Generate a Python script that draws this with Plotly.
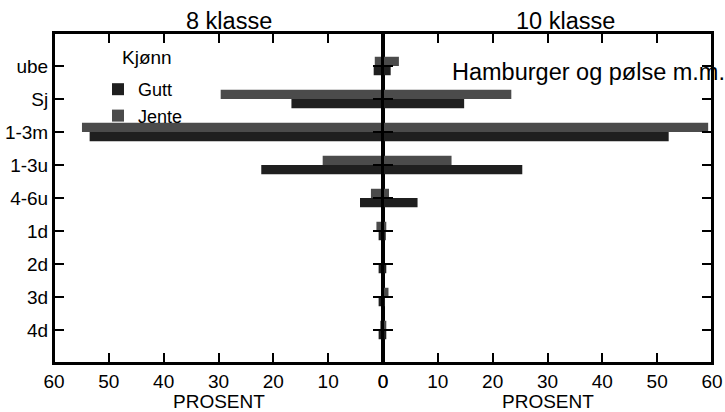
import plotly.graph_objects as go

categories = ["ube", "Sj", "1-3m", "1-3u", "4-6u", "1d", "2d", "3d", "4d"]
series_names = ["Gutt", "Jente"]
grade8_gutt = [1.7, 16.7, 53.5, 22.2, 4.2, 0.8, 0.8, 0.8, 0.8]
grade8_jente = [1.5, 29.6, 54.9, 11.0, 2.2, 1.2, 0.2, 0.2, 0.5]
grade10_gutt = [1.4, 14.8, 52.1, 25.4, 6.3, 0.5, 0.6, 0.2, 0.6]
grade10_jente = [2.9, 23.4, 59.3, 12.5, 1.1, 0.6, 0.1, 1.0, 0.6]
panel_titles = ["8 klasse", "10 klasse"]
x_ticks = [0, 10, 20, 30, 40, 50, 60]
chart_label = "Hamburger og pølse m.m."
legend_title = "Kjønn"
x_title = "PROSENT"

FONT = "Liberation Sans, Arial, sans-serif"
C_GUTT = "#1f1f1f"
C_JENTE = "#4b4b4b"
W = 0.28
ML, MR, MT, MB = 54, 13, 33, 49
PW = (725 - ML - MR) / 2
PH = 412 - MT - MB

fig = go.Figure()
for vals, name, col, off, xa, ya, show in [
    (grade8_gutt, series_names[0], C_GUTT, 0.0, "x", "y", True),
    (grade8_jente, series_names[1], C_JENTE, -W, "x", "y", True),
    (grade10_gutt, series_names[0], C_GUTT, 0.0, "x2", "y2", False),
    (grade10_jente, series_names[1], C_JENTE, -W, "x2", "y2", False),
]:
    fig.add_trace(go.Bar(x=vals, y=categories, orientation="h", name=name,
                         marker=dict(color=col, line=dict(width=0)),
                         width=W, offset=off, xaxis=xa, yaxis=ya, showlegend=show))

ax_style = dict(showline=True, linecolor="black", linewidth=2, mirror="ticks",
                ticks="inside", ticklen=10, tickwidth=2, tickcolor="black",
                showgrid=False, zeroline=False)

frame = [
    dict(type="rect", xref="paper", yref="paper", x0=0, x1=0.5, y0=0, y1=1,
         line=dict(color="black", width=2), layer="above"),
    dict(type="rect", xref="paper", yref="paper", x0=0.5, x1=1, y0=0, y1=1,
         line=dict(color="black", width=2), layer="above"),
]

fig.update_layout(
    template="none",
    width=725, height=412, margin=dict(l=ML, r=MR, t=MT, b=MB),
    barmode="overlay", paper_bgcolor="white", plot_bgcolor="white",
    font=dict(family=FONT, color="black", size=19),
    xaxis=dict(domain=[0, 0.5], range=[60, 0], tickvals=x_ticks, anchor="y", **ax_style),
    xaxis2=dict(domain=[0.5, 1], range=[0, 60], tickvals=x_ticks, anchor="y2", **ax_style),
    yaxis=dict(type="category", categoryorder="array", categoryarray=categories,
               range=[9, -1], anchor="x", side="left", **ax_style),
    yaxis2=dict(type="category", categoryorder="array", categoryarray=categories,
                range=[9, -1], anchor="x2", side="left", showticklabels=False, **ax_style),
    legend=dict(font=dict(size=18), x=(98 - ML) / (2 * PW), y=(MT + PH - 71) / PH,
                xanchor="left", yanchor="top", bgcolor="rgba(0,0,0,0)"),
    shapes=frame,
    annotations=[
        dict(text=panel_titles[0], x=0.266, y=1, xref="paper", yref="paper",
             xanchor="center", yanchor="bottom", yshift=-3, showarrow=False,
             font=dict(size=23.5)),
        dict(text=panel_titles[1], x=0.778, y=1, xref="paper", yref="paper",
             xanchor="center", yanchor="bottom", yshift=-3, showarrow=False,
             font=dict(size=23.5)),
        dict(text=chart_label, x=0.602, y=0.882, xref="paper", yref="paper",
             xanchor="left", yanchor="middle", showarrow=False, font=dict(size=23.5)),
        dict(text=legend_title, x=(120 - ML) / (2 * PW), y=(MT + PH - 57) / PH,
             xref="paper", yref="paper", xanchor="left", yanchor="middle",
             showarrow=False, font=dict(size=19)),
        dict(text=x_title, x=0.25, y=(MT + PH - 401.5) / PH, xref="paper", yref="paper",
             xanchor="center", yanchor="middle", showarrow=False, font=dict(size=19)),
        dict(text=x_title, x=0.75, y=(MT + PH - 401.5) / PH, xref="paper", yref="paper",
             xanchor="center", yanchor="middle", showarrow=False, font=dict(size=19)),
    ],
)
fig.write_html("out.html")
